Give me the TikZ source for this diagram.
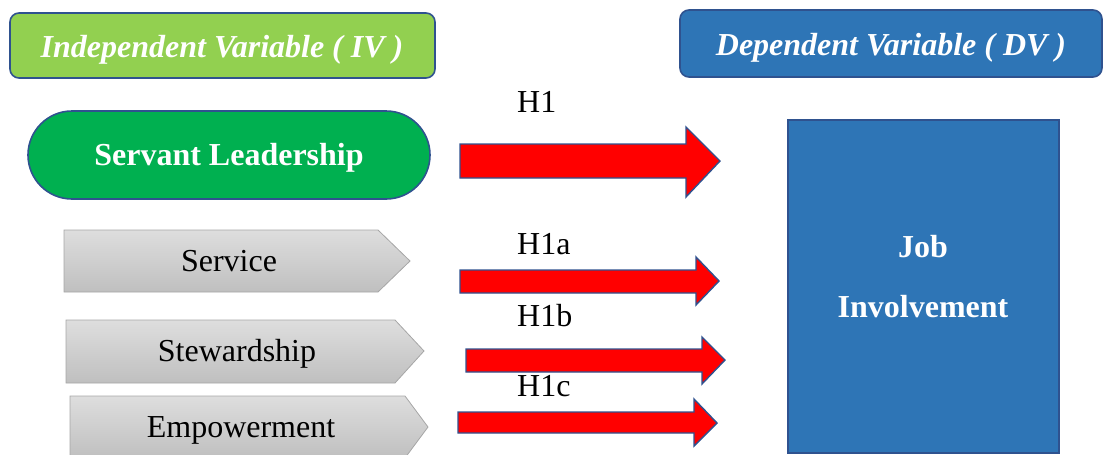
\documentclass[tikz,border=0pt]{standalone}
\usepackage{fontspec}
\setmainfont{Liberation Serif}
\usetikzlibrary{positioning}

\definecolor{ivgreen}{HTML}{92D050}
\definecolor{slgreen}{HTML}{00B050}
\definecolor{dvblue}{HTML}{2E75B6}
\definecolor{edgeblue}{HTML}{2F528F}
\definecolor{hypred}{HTML}{FF0000}
\definecolor{dimgray}{HTML}{A6A6A6}

\tikzset{
  headbox/.style={draw=edgeblue, line width=1.6pt, rounded corners=9pt},
  graybox/.style={draw=dimgray, line width=0.8pt, top color=black!13, bottom color=black!25},
  hyparrow/.style={draw=edgeblue, line width=1.4pt, fill=hypred, line join=miter},
  whitetext/.style={text=white, anchor=base, inner sep=0pt, font=\fontsize{32}{38}\selectfont\bfseries},
  plaintext/.style={text=black, anchor=base, inner sep=0pt, font=\fontsize{32}{38}\selectfont},
}

\begin{document}
\begin{tikzpicture}[x=1pt,y=-1pt]
  \useasboundingbox (0,0) rectangle (1103,455);

  % headings
  \draw [headbox, fill=ivgreen] (10,13) rectangle (435,78);
  \node [whitetext, font=\fontsize{32}{38}\selectfont\bfseries\itshape] (iv) at (222,57) {Independent Variable ( IV )};
  \draw [headbox, fill=dvblue] (680,10) rectangle (1102,77);
  \node [whitetext, font=\fontsize{32}{38}\selectfont\bfseries\itshape] (dv) at (891,55) {Dependent Variable ( DV )};

  % independent variable and dimensions
  \draw [draw=edgeblue, line width=1.6pt, fill=slgreen, rounded corners=44pt] (28,111) rectangle (430,199);
  \node [whitetext] (sl) at (229,165) {Servant Leadership};

  \draw [graybox] (64,230) -- (378,230) -- (410,261) -- (378,292) -- (64,292) -- cycle;
  \node [plaintext] (service) at (229,271) {Service};
  \draw [graybox] (66,320) -- (395,320) -- (424,351) -- (395,383) -- (66,383) -- cycle;
  \node [plaintext] (steward) at (237,361) {Stewardship};
  \draw [graybox] (70,396) -- (405,396) -- (428,427) -- (405,458) -- (70,458) -- cycle;
  \node [plaintext] (empower) at (241,437) {Empowerment};

  % hypotheses
  \draw [hyparrow] (460,144) -- (686,144) -- (686,127) -- (720,161) -- (686,197) -- (686,178) -- (460,178) -- cycle;
  \draw [hyparrow] (460,270) -- (696,270) -- (696,257) -- (719,281) -- (696,305) -- (696,293) -- (460,293) -- cycle;
  \draw [hyparrow] (466,349) -- (702,349) -- (702,337) -- (725,360) -- (702,384) -- (702,372) -- (466,372) -- cycle;
  \draw [hyparrow] (458,412) -- (694,412) -- (694,399) -- (717,423) -- (694,446) -- (694,433) -- (458,433) -- cycle;

  \node [plaintext, anchor=base west] (h1) at (517,112) {H1};
  \node [plaintext, anchor=base west] (h1a) at (517,254) {H1a};
  \node [plaintext, anchor=base west] (h1b) at (517,326) {H1b};
  \node [plaintext, anchor=base west] (h1c) at (517,396) {H1c};

  % dependent variable
  \draw [draw=edgeblue, line width=1.6pt, fill=dvblue] (788,120) rectangle (1059,453);
  \node [whitetext] (job) at (923,257) {Job};
  \node [whitetext] (inv) at (923,317) {Involvement};
\end{tikzpicture}
\end{document}
